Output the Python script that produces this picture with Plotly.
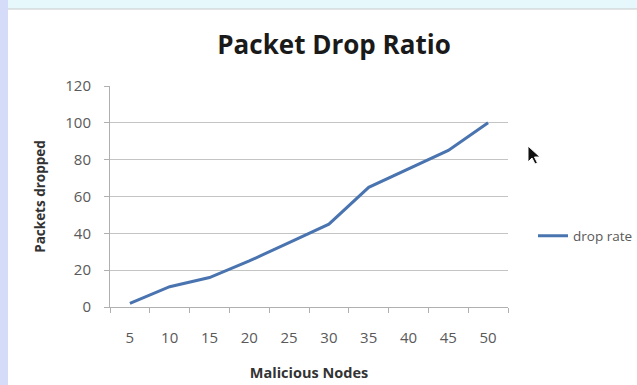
import plotly.graph_objects as go

categories = ["5", "10", "15", "20", "25", "30", "35", "40", "45", "50"]
drop_rate = [2, 11, 16, 25, 35, 45, 65, 75, 85, 100]
y_ticks = [0, 20, 40, 60, 80, 100, 120]

font_family = "'Open Sans', Lato, sans-serif"
gray_text = "#595959"
grid_col = "#c4c4c4"

# plot area in pixels: x 110..508, y 86..307
L, R, T, B = 110, 508, 86, 307
W, H = R - L, B - T


def px(x):
    return (x - L) / W


def py(y):
    return (B - y) / H


cursor_pts = [(528, 146), (528, 162), (532, 158), (535, 164), (537.5, 163), (534.5, 157), (540, 157)]
cursor_path = "M " + " L ".join(f"{px(a):.5f},{py(b):.5f}" for a, b in cursor_pts) + " Z"

fig = go.Figure()
fig.add_trace(go.Scatter(
    x=categories, y=drop_rate, mode="lines", name="drop rate",
    line=dict(color="#4a74b0", width=3),
))

fig.update_layout(
    width=637, height=385, autosize=False,
    margin=dict(l=L, r=637 - R, t=T, b=385 - B, autoexpand=False),
    paper_bgcolor="white", plot_bgcolor="white",
    title=dict(text="<b>Packet Drop Ratio</b>", x=334/637, xanchor="center",
               y=1 - 45/385, yanchor="middle", automargin=False,
               font=dict(family=font_family, size=26, color="#1a1a1a")),
    showlegend=True,
    legend=dict(x=px(533), y=py(236), xanchor="left", yanchor="middle",
                font=dict(family=font_family, size=13.5, color=gray_text),
                bgcolor="rgba(0,0,0,0)", itemwidth=30),
    xaxis=dict(
        type="category", range=[-0.5, 9.5], tickson="boundaries", ticks="outside", ticklen=5,
        tickcolor="#b0b0b0", showline=True, linecolor="#b0b0b0", showgrid=False,
        tickfont=dict(family=font_family, size=15, color=gray_text),
        ticklabelstandoff=17, automargin=False,
        title=dict(text="<b>Malicious Nodes</b>", standoff=21,
                   font=dict(family=font_family, size=14.5, color="#333333")),
        fixedrange=True,
    ),
    yaxis=dict(
        range=[0, 120], tickvals=y_ticks, ticks="outside", ticklen=5,
        tickcolor="#b0b0b0", showline=True, linecolor="#b0b0b0",
        showgrid=True, gridcolor=grid_col, gridwidth=1, zeroline=False,
        tickfont=dict(family=font_family, size=15, color=gray_text),
        ticklabelstandoff=10, automargin=False,
        title=dict(text="<b>Packets dropped</b>", standoff=16,
                   font=dict(family=font_family, size=13.5, color="#333333")),
        fixedrange=True,
    ),
    shapes=[
        dict(type="rect", xref="paper", yref="paper", x0=px(0), x1=px(637),
             y0=py(9), y1=py(0), fillcolor="#e6f8fc", line=dict(width=0), layer="below"),
        dict(type="rect", xref="paper", yref="paper", x0=px(0), x1=px(8),
             y0=py(385), y1=py(0), fillcolor="#d4dcfa", line=dict(width=0), layer="below"),
        dict(type="line", xref="paper", yref="paper", x0=px(8), x1=px(637),
             y0=py(9), y1=py(9), line=dict(color="#c8c8c8", width=1)),
        dict(type="path", xref="paper", yref="paper", path=cursor_path,
             fillcolor="#111111", line=dict(color="#ffffff", width=1)),
    ],
)

fig.write_html("out.html", config={"displayModeBar": False},
               post_script="document.body.style.margin='0';")
